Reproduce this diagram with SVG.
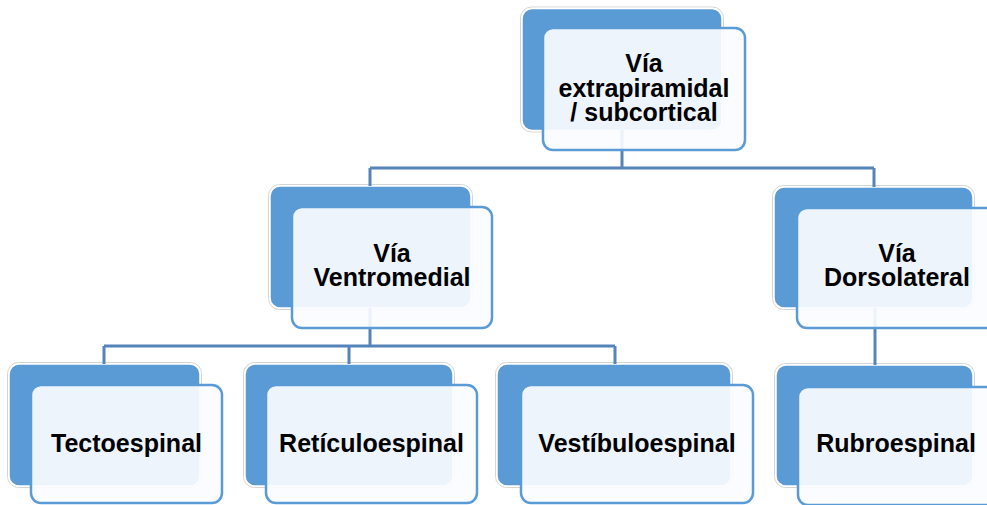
<svg xmlns="http://www.w3.org/2000/svg" width="987" height="505" viewBox="0 0 987 505">
  <style>
    .halo { fill: none; stroke: #d4d4d4; stroke-width: 1; }
    .back { fill: #5b9bd5; stroke: #ffffff; stroke-width: 1.5; }
    .front { fill: #fafcff; fill-opacity: 0.92; stroke: #5b9bd5; stroke-width: 2.5; }
    .conn { fill: none; stroke: #5584ba; stroke-width: 3; }
    .lbl { font-family: "Liberation Sans", Arial, sans-serif; font-weight: bold; font-size: 25px; fill: #000000; text-anchor: middle; }
  </style>

  <!-- back plates (blue) sit under the connectors -->
  <g id="plates">
    <rect class="halo" x="520.5" y="7" width="203" height="125" rx="11"/>
    <rect class="back" x="522" y="8.5" width="200" height="122" rx="10"/>

    <rect class="halo" x="268.5" y="184.5" width="204" height="125" rx="11"/>
    <rect class="back" x="270" y="186" width="201" height="122" rx="10"/>

    <rect class="halo" x="772.5" y="185.5" width="202" height="124" rx="11"/>
    <rect class="back" x="774" y="187" width="199" height="121" rx="10"/>

    <rect class="halo" x="7.5" y="362.5" width="194" height="125" rx="11"/>
    <rect class="back" x="9" y="364" width="191" height="122" rx="10"/>

    <rect class="halo" x="243.5" y="362.5" width="211" height="125" rx="11"/>
    <rect class="back" x="245" y="364" width="208" height="122" rx="10"/>

    <rect class="halo" x="495.5" y="362.5" width="237" height="125" rx="11"/>
    <rect class="back" x="497" y="364" width="234" height="122" rx="10"/>

    <rect class="halo" x="774.5" y="363.5" width="200" height="124" rx="11"/>
    <rect class="back" x="776" y="365" width="197" height="121" rx="10"/>
  </g>

  <!-- connectors -->
  <g id="connectors">
    <path class="conn" d="M622 130 V168 M370 168 H874 M370 168 V186 M874 168 V187"/>
    <path class="conn" d="M370 308 V346 M104 346 H615 M104 346 V364 M349 346 V364 M615 346 V364"/>
    <path class="conn" d="M875 308 V365"/>
  </g>

  <g id="node-extrapiramidal">
    <rect class="front" x="543" y="28" width="202" height="122" rx="10"/>
    <text class="lbl" x="644" y="72">Vía</text>
    <text class="lbl" x="644" y="97">extrapiramidal</text>
    <text class="lbl" x="644" y="121">/ subcortical</text>
  </g>

  <g id="node-ventromedial">
    <rect class="front" x="292" y="207" width="200" height="121" rx="10"/>
    <text class="lbl" x="392" y="262">Vía</text>
    <text class="lbl" x="392" y="286">Ventromedial</text>
  </g>

  <g id="node-dorsolateral">
    <rect class="front" x="797" y="208" width="200" height="120" rx="10"/>
    <text class="lbl" x="897" y="262">Vía</text>
    <text class="lbl" x="897" y="286">Dorsolateral</text>
  </g>

  <g id="node-tectoespinal">
    <rect class="front" x="31" y="385" width="191" height="118" rx="10"/>
    <text class="lbl" x="126.5" y="452">Tectoespinal</text>
  </g>

  <g id="node-reticuloespinal">
    <rect class="front" x="266" y="385" width="211" height="118" rx="10"/>
    <text class="lbl" x="371.5" y="452">Retículoespinal</text>
  </g>

  <g id="node-vestibuloespinal">
    <rect class="front" x="521" y="385" width="232" height="118" rx="10"/>
    <text class="lbl" x="637" y="452">Vestíbuloespinal</text>
  </g>

  <g id="node-rubroespinal">
    <rect class="front" x="798" y="387" width="200" height="118" rx="10"/>
    <text class="lbl" x="896" y="452">Rubroespinal</text>
  </g>
</svg>
